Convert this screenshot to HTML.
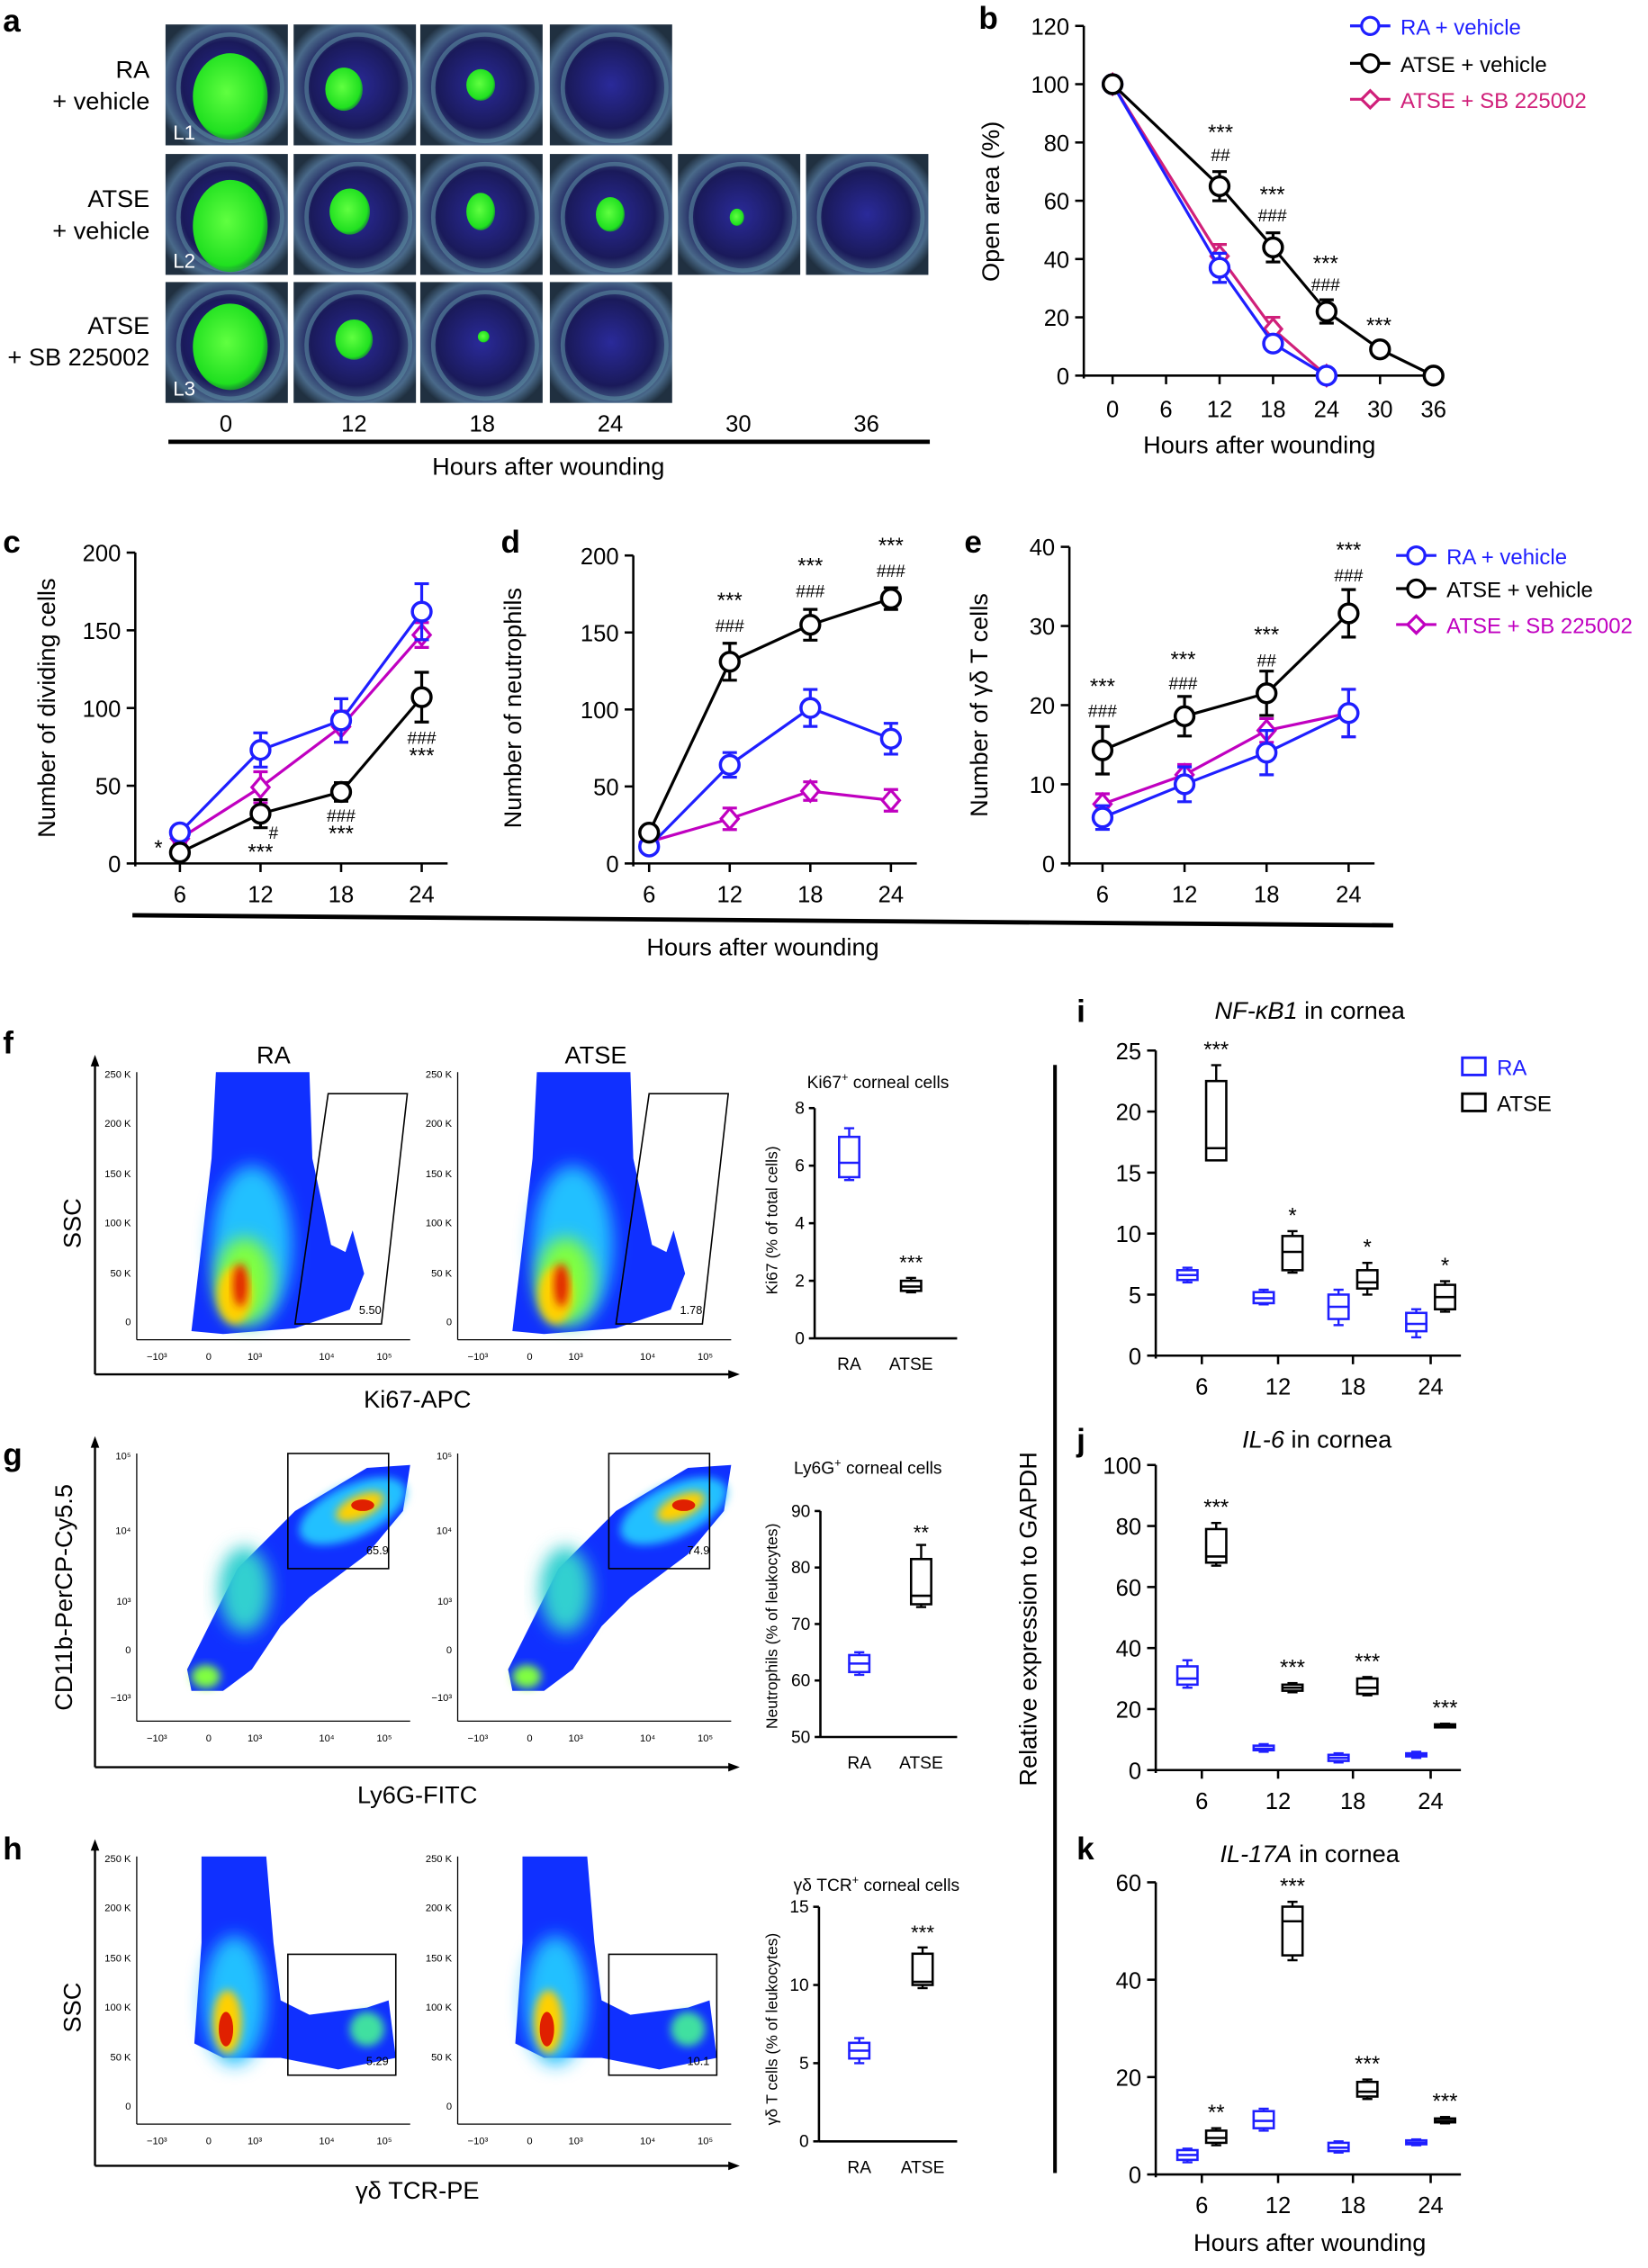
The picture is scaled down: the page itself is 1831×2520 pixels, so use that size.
<!DOCTYPE html>
<html><head><meta charset="utf-8"><style>
html,body{margin:0;padding:0;background:#fff}
svg{display:block;font-family:"Liberation Sans",Arial,sans-serif}
</style></head><body>
<svg id="s" xmlns="http://www.w3.org/2000/svg" width="1831" height="2520" viewBox="0 0 1145 1576" preserveAspectRatio="none">
<defs>
<radialGradient id="eye" cx="50%" cy="50%" r="60%"><stop offset="0" stop-color="#2a2a9a"/><stop offset="0.6" stop-color="#1a1a5a"/><stop offset="0.85" stop-color="#4a6a8a"/><stop offset="1" stop-color="#203040"/></radialGradient>
<radialGradient id="grn" cx="45%" cy="45%" r="60%"><stop offset="0" stop-color="#60ff40"/><stop offset="0.8" stop-color="#20e020"/><stop offset="1" stop-color="#10a020" stop-opacity="0.6"/></radialGradient>
<filter id="bl" x="-30%" y="-30%" width="160%" height="160%"><feGaussianBlur stdDeviation="6"/></filter>
<filter id="bl2" x="-30%" y="-30%" width="160%" height="160%"><feGaussianBlur stdDeviation="3"/></filter>
</defs>
<g id="g"></g>
<!-- static labels -->
<g font-size="17" fill="#000">
<text x="2" y="22" font-weight="bold" font-size="22">a</text>
<text x="680" y="20" font-weight="bold" font-size="22">b</text>
<text x="2" y="384" font-weight="bold" font-size="22">c</text>
<text x="348" y="384" font-weight="bold" font-size="22">d</text>
<text x="670" y="384" font-weight="bold" font-size="22">e</text>
<text x="2" y="732" font-weight="bold" font-size="22">f</text>
<text x="2" y="1018" font-weight="bold" font-size="22">g</text>
<text x="2" y="1292" font-weight="bold" font-size="22">h</text>
<text x="748" y="710" font-weight="bold" font-size="22">i</text>
<text x="748" y="1008" font-weight="bold" font-size="22">j</text>
<text x="748" y="1292" font-weight="bold" font-size="22">k</text>
<text x="104" y="54" text-anchor="end">RA</text><text x="104" y="76" text-anchor="end">+ vehicle</text>
<text x="104" y="144" text-anchor="end">ATSE</text><text x="104" y="166" text-anchor="end">+ vehicle</text>
<text x="104" y="232" text-anchor="end">ATSE</text><text x="104" y="254" text-anchor="end">+ SB 225002</text>
<text x="381" y="330" text-anchor="middle">Hours after wounding</text>
<text x="875" y="315" text-anchor="middle">Hours after wounding</text>
<text x="530" y="664" text-anchor="middle">Hours after wounding</text>
<text x="910" y="1564" text-anchor="middle">Hours after wounding</text>
<text transform="translate(694,140) rotate(-90)" text-anchor="middle">Open area (%)</text>
<text transform="translate(38,492) rotate(-90)" text-anchor="middle">Number of dividing cells</text>
<text transform="translate(362,492) rotate(-90)" text-anchor="middle">Number of neutrophils</text>
<text transform="translate(686,490) rotate(-90)" text-anchor="middle">Number of γδ T cells</text>
<text transform="translate(720,1125) rotate(-90)" text-anchor="middle">Relative expression to GAPDH<tspan font-style="italic"></tspan></text>
<text transform="translate(56,850) rotate(-90)" text-anchor="middle">SSC</text>
<text transform="translate(50,1110) rotate(-90)" text-anchor="middle">CD11b-PerCP-Cy5.5</text>
<text transform="translate(56,1395) rotate(-90)" text-anchor="middle">SSC</text>
<text x="190" y="739" text-anchor="middle">RA</text>
<text x="414" y="739" text-anchor="middle">ATSE</text>
<text x="290" y="978" text-anchor="middle">Ki67-APC</text>
<text x="290" y="1253" text-anchor="middle">Ly6G-FITC</text>
<text x="290" y="1528" text-anchor="middle">γδ TCR-PE</text>
<text x="910" y="708" text-anchor="middle"><tspan font-style="italic">NF-κB1</tspan> in cornea</text>
<text x="915" y="1006" text-anchor="middle"><tspan font-style="italic">IL-6</tspan> in cornea</text>
<text x="910" y="1294" text-anchor="middle"><tspan font-style="italic">IL-17A</tspan> in cornea</text>
</g>
<g font-size="12" fill="#000">
<text x="610" y="756" text-anchor="middle">Ki67<tspan font-size="8" dy="-5">+</tspan><tspan dy="5"> corneal cells</tspan></text>
<text x="603" y="1024" text-anchor="middle">Ly6G<tspan font-size="8" dy="-5">+</tspan><tspan dy="5"> corneal cells</tspan></text>
<text x="609" y="1314" text-anchor="middle">γδ TCR<tspan font-size="8" dy="-5">+</tspan><tspan dy="5"> corneal cells</tspan></text>
<text transform="translate(540,848) rotate(-90)" text-anchor="middle" font-size="11">Ki67 (% of total cells)</text>
<text transform="translate(540,1130) rotate(-90)" text-anchor="middle" font-size="11">Neutrophils (% of leukocytes)</text>
<text transform="translate(540,1410) rotate(-90)" text-anchor="middle" font-size="11">γδ T cells (% of leukocytes)</text>
</g>
</svg>
<script>
const g=document.getElementById('g');const NS='http://www.w3.org/2000/svg';
function el(t,a,txt){const e=document.createElementNS(NS,t);for(const k in a)e.setAttribute(k,a[k]);if(txt!==undefined)e.textContent=txt;g.appendChild(e);return e;}
function L(x1,y1,x2,y2,c='#000',w=1.6){el('line',{x1,y1,x2,y2,stroke:c,'stroke-width':w});}
function T(x,y,s,sz=16,an='middle',c='#000',ex={}){el('text',Object.assign({x,y,'font-size':sz,'text-anchor':an,fill:c},ex),s);}
const BL='#1f1fff',BK='#000',MG='#c000c0',RD='#d0207a';
// panel a photos
const cols=[115,204,292,382,471,560],rows=[17,107,196];
const greens=[[[48,50,26,30],[38,45,13,15],[45,42,10,11],null],[[48,50,26,32],[42,40,14,16],[45,40,10,13],[45,42,10,12],[44,44,5,6],null],[[48,45,26,30],[45,40,13,14],[47,38,4,4],null]];
rows.forEach((ry,ri)=>{greens[ri].forEach((gr,ci)=>{const x=cols[ci];el('rect',{x,y:ry,width:85,height:84,fill:'url(#eye)'});
el('ellipse',{cx:x+45,cy:ry+44,rx:36,ry:37,fill:'none',stroke:'#5a8aa0','stroke-width':3,opacity:0.6});
if(gr)el('ellipse',{cx:x+gr[0]-3,cy:ry+gr[1],rx:gr[2],ry:gr[3],fill:'url(#grn)'});});});
T(128,97,'L1',14,'middle','#fff');T(128,186,'L2',14,'middle','#fff');T(128,275,'L3',14,'middle','#fff');
[0,12,18,24,30,36].forEach((h,i)=>T(157+i*89,300,String(h),16));
L(117,307,646,307,'#000',3);
// generic line plot
function series(xf,yf,hs,vals,errs,c,mk){let d='';hs.forEach((h,i)=>{d+=(i?'L':'M')+xf(h)+' '+yf(vals[i]);});el('path',{d,fill:'none',stroke:c,'stroke-width':2});
hs.forEach((h,i)=>{const x=xf(h),y=yf(vals[i]),e=errs[i];if(e){L(x,yf(vals[i]+e),x,yf(vals[i]-e),c,2);L(x-5,yf(vals[i]+e),x+5,yf(vals[i]+e),c,2);L(x-5,yf(vals[i]-e),x+5,yf(vals[i]-e),c,2);}
if(mk=='o')el('circle',{cx:x,cy:y,r:6.5,fill:'#fff',stroke:c,'stroke-width':2.2});else el('path',{d:`M${x} ${y-7}L${x+6} ${y}L${x} ${y+7}L${x-6} ${y}Z`,fill:'#fff',stroke:c,'stroke-width':2});});}
function yaxis(x,y0,y1,ticks,vmax,sz=16){L(x,y0+2,x,y1,'#000',1.6);ticks.forEach(v=>{const y=y0-(y0-y1)*v/vmax;L(x-6,y,x,y);T(x-10,y+6,String(v),sz,'end');});}
// b
{const xf=h=>773+h*223/36,yf=v=>261-v*243/120;yaxis(753,261,18,[0,20,40,60,80,100,120],120);L(753,261,1000,261);
[0,6,12,18,24,30,36].forEach(h=>{L(xf(h),261,xf(h),267);T(xf(h),290,String(h),16);});
series(xf,yf,[0,12,18,24],[100,41,16,0],[0,4,4,0],RD,'d');
series(xf,yf,[0,12,18,24],[100,37,11,0],[0,5,2,0],BL,'o');
series(xf,yf,[0,12,18,24,30,36],[100,65,44,22,9,0],[0,5,5,4,1,0],BK,'o');
[[848,97,'***'],[848,112,'##'],[884,140,'***'],[884,154,'###'],[921,188,'***'],[921,202,'###'],[958,231,'***']].forEach(a=>T(a[0],a[1],a[2],a[2][0]=='#'?12:15));
const lg=[[BL,'o','RA + vehicle',18],[BK,'o','ATSE + vehicle',44],[RD,'d','ATSE + SB 225002',69]];
lg.forEach(l=>{L(938,l[3],966,l[3],l[0],2);if(l[1]=='o')el('circle',{cx:952,cy:l[3],r:6,fill:'#fff',stroke:l[0],'stroke-width':2});else el('path',{d:`M952 ${l[3]-6}L958 ${l[3]}L952 ${l[3]+6}L946 ${l[3]}Z`,fill:'#fff',stroke:l[0],'stroke-width':2});T(973,l[3]+6,l[2],15,'start',l[0]==BK?'#000':l[0]);});}
// c d e
function panel(ax,y0,ytop,vmax,ticks,x6,dx,S,ann){const xf=h=>x6+(h-6)*dx,yf=v=>y0-(y0-ytop)*v/vmax;yaxis(ax,y0,ytop,ticks,vmax);L(ax,y0,xf(24)+18,y0);
[6,12,18,24].forEach(h=>{L(xf(h),y0,xf(h),y0+6);T(xf(h),627,String(h),16);});S.forEach(s=>series(xf,yf,[6,12,18,24],s[0],s[1],s[2],s[3]));ann.forEach(a=>T(a[0],a[1],a[2],a[2][0]=='#'?12:15));}
panel(94,600,384,200,[0,50,100,150,200],125,168/18,[[[16,49,88,147],[3,10,10,8],MG,'d'],[[20,73,92,162],[3,11,14,18],BL,'o'],[[7,32,46,107],[2,9,6,16],BK,'o']],
[[110,594,'*'],[190,583,'#'],[181,597,'***'],[237,571,'###'],[237,584,'***'],[293,517,'###'],[293,530,'***']]);
panel(440,600,386,200,[0,50,100,150,200],451,168/18,[[[14,29,47,41],[2,7,6,7],MG,'d'],[[11,64,101,81],[2,8,12,10],BL,'o'],[[20,131,155,172],[2,12,10,7],BK,'o']],
[[507,422,'***'],[507,439,'###'],[563,398,'***'],[563,415,'###'],[619,384,'***'],[619,401,'###']]);
panel(743,600,380,40,[0,10,20,30,40],766,171/18,[[[7.5,11.2,16.8,19],[1.3,1.3,1.5,3],MG,'d'],[[5.8,10,14,19],[1.5,2.2,2.8,3],BL,'o'],[[14.3,18.6,21.5,31.6],[3,2.5,2.8,3],BK,'o']],
[[766,482,'***'],[766,498,'###'],[822,463,'***'],[822,479,'###'],[880,446,'***'],[880,463,'##'],[937,387,'***'],[937,404,'###']]);
[[BL,'o','RA + vehicle',386],[BK,'o','ATSE + vehicle',409],[MG,'d','ATSE + SB 225002',434]].forEach(l=>{L(970,l[3],998,l[3],l[0],2);if(l[1]=='o')el('circle',{cx:984,cy:l[3],r:6,fill:'#fff',stroke:l[0],'stroke-width':2});else el('path',{d:`M984 ${l[3]-6}L990 ${l[3]}L984 ${l[3]+6}L978 ${l[3]}Z`,fill:'#fff',stroke:l[0],'stroke-width':2});T(1005,l[3]+6,l[2],15,'start',l[0]==BK?'#000':l[0]);});
L(92,636,968,643,'#000',3);
// flow plots
function arrowAxes(y0,y1,yb){L(66,yb,66,y0-6,'#000',1.5);el('path',{d:`M66 ${y0-12}l-3 8h6z`});L(66,yb,508,yb,'#000',1.5);el('path',{d:`M514 ${yb}l-8 -3v6z`});}
function heat(ox,oy,kind,gate,num,yl,xl){el('rect',{x:ox,y:oy,width:190,height:186,fill:'#fff'});L(ox,oy,ox,oy+186,'#000',0.8);L(ox,oy+186,ox+190,oy+186,'#000',0.8);
const gg=el('g',{transform:`translate(${ox},${oy})`});const add=(t,a)=>{const e=document.createElementNS(NS,t);for(const k in a)e.setAttribute(k,a[k]);gg.appendChild(e);};
if(kind=='f'){add('path',{d:'M55 0L120 0 122 60 135 120 145 125 150 110 158 140 148 165 110 178 60 182 38 180 45 120 52 60Z',fill:'#1030ff'});
add('ellipse',{cx:80,cy:120,rx:28,ry:55,fill:'#20c0ff',filter:'url(#bl)'});add('ellipse',{cx:75,cy:145,rx:20,ry:30,fill:'#80ff40',filter:'url(#bl)'});add('ellipse',{cx:68,cy:155,rx:12,ry:20,fill:'#ffd000',filter:'url(#bl2)'});add('ellipse',{cx:72,cy:148,rx:5,ry:15,fill:'#e02000',filter:'url(#bl2)'});}
if(kind=='g'){add('path',{d:'M35 150 50 120 70 80 110 40 160 10 190 8 185 40 160 70 120 100 100 120 80 150 60 165 38 165Z',fill:'#1030ff'});
add('ellipse',{cx:150,cy:40,rx:40,ry:18,fill:'#20c0ff',transform:'rotate(-25 150 40)',filter:'url(#bl2)'});add('ellipse',{cx:155,cy:37,rx:18,ry:8,fill:'#ffd000',transform:'rotate(-25 155 37)',filter:'url(#bl2)'});add('ellipse',{cx:157,cy:36,rx:8,ry:4,fill:'#e02000'});
add('ellipse',{cx:75,cy:95,rx:18,ry:30,fill:'#30d0d0',filter:'url(#bl)'});add('ellipse',{cx:48,cy:155,rx:10,ry:8,fill:'#80ff40',filter:'url(#bl2)'});add('ellipse',{cx:112,cy:135,rx:12,ry:10,fill:'#fff'});}
if(kind=='h'){add('path',{d:'M45 0L90 0 95 60 100 100 120 110 160 105 175 100 180 140 140 148 100 140 60 140 40 130 45 60Z',fill:'#1030ff'});
add('ellipse',{cx:68,cy:100,rx:22,ry:45,fill:'#20c0ff',filter:'url(#bl)'});add('ellipse',{cx:63,cy:115,rx:10,ry:22,fill:'#ffd000',filter:'url(#bl2)'});add('ellipse',{cx:62,cy:120,rx:5,ry:12,fill:'#e02000'});add('ellipse',{cx:160,cy:120,rx:12,ry:12,fill:'#40e0a0',filter:'url(#bl2)'});}
if(gate.length==4)el('rect',{x:ox+gate[0],y:oy+gate[1],width:gate[2],height:gate[3],fill:'none',stroke:'#000','stroke-width':1});else el('polygon',{points:gate.map((p,i)=>i%2?p+oy:p+ox).join(' '),fill:'none',stroke:'#000','stroke-width':1});
T(ox+num[0],oy+num[1],num[2],8,'end');yl.forEach(t=>T(ox-4,oy+t[0],t[1],7,'end'));xl.forEach(t=>T(ox+t[0],oy+200,t[1],7));}
const ssc=[[4,'250 K'],[38,'200 K'],[73,'150 K'],[107,'100 K'],[142,'50 K'],[176,'0']],cdl=[[4,'10⁵'],[56,'10⁴'],[105,'10³'],[139,'0'],[172,'−10³']];
const xl=[[14,'−10³'],[50,'0'],[82,'10³'],[132,'10⁴'],[172,'10⁵']];
arrowAxes(745,931,955);heat(95,745,'f',[133,15,188,15,170,175,110,175],[170,168,'5.50'],ssc,xl);heat(318,745,'f',[133,15,188,15,170,175,110,175],[170,168,'1.78'],ssc,xl);
arrowAxes(1010,1200,1228);heat(95,1010,'g',[105,0,70,80],[175,70,'65.9'],cdl,xl);heat(318,1010,'g',[105,0,70,80],[175,70,'74.9'],cdl,xl);
arrowAxes(1290,1480,1505);heat(95,1290,'h',[105,68,75,84],[175,145,'5.29'],ssc,xl);heat(318,1290,'h',[105,68,75,84],[175,145,'10.1'],ssc,xl);
// box plots
function box(x,yf,b,c,w=9){const[lo,q1,md,q3,hi]=b;L(x,yf(lo),x,yf(q1),c,1.5);L(x,yf(q3),x,yf(hi),c,1.5);L(x-w/2,yf(lo),x+w/2,yf(lo),c,1.5);L(x-w/2,yf(hi),x+w/2,yf(hi),c,1.5);
el('rect',{x:x-w,y:yf(q3),width:2*w,height:yf(q1)-yf(q3),fill:'#fff',stroke:c,'stroke-width':1.6});L(x-w,yf(md),x+w,yf(md),c,1.6);}
function small(ax,y0,ytop,vmin,vmax,ticks,bx,ann){const yf=v=>y0-(y0-ytop)*(v-vmin)/(vmax-vmin);L(ax,y0,ax,ytop);ticks.forEach(v=>{L(ax-4,yf(v),ax,yf(v));T(ax-7,yf(v)+4,String(v),12,'end');});L(ax,y0,665,y0);
box(bx[0][0],yf,bx[0][1],BL,7);box(bx[1][0],yf,bx[1][1],BK,7);T(bx[0][0],y0+22,'RA',12);T(bx[1][0],y0+22,'ATSE',12);T(bx[1][0],yf(ann[0]),ann[1],14);}
small(566,930,770,0,8,[0,2,4,6,8],[[590,[5.5,5.6,6.1,7,7.3]],[633,[1.6,1.65,1.8,2,2.1]]],[2.4,'***']);
small(570,1207,1050,50,90,[50,60,70,80,90],[[597,[61,61.5,63,64.5,65]],[640,[73,73.5,75,81.5,84]]],[85,'**']);
small(569,1488,1325,0,15,[0,5,10,15],[[597,[5,5.3,5.8,6.3,6.6]],[641,[9.8,10,10.2,12,12.4]]],[12.9,'***']);
L(733,740,733,1510,'#000',2.5);
function gene(y0,ytop,vmax,ticks,data,ann){const yf=v=>y0-(y0-ytop)*v/vmax,xs=[835,888,940,994];yaxis(803,y0,ytop,ticks,vmax);L(803,y0,1015,y0);
xs.forEach((x,i)=>{L(x,y0,x,y0+6);T(x,y0+27,['6','12','18','24'][i],16);box(x-10,yf,data[i][0],BL,7);box(x+10,yf,data[i][1],BK,7);T(x+10,yf(data[i][1][4])-6,ann[i],15);});}
gene(942,730,25,[0,5,10,15,20,25],[[[6,6.2,6.6,7,7.2],[16,16,17,22.5,23.8]],[[4.2,4.3,4.7,5.2,5.4],[6.8,7,8.5,9.8,10.2]],[[2.5,3,4,5,5.4],[5,5.5,6,7,7.6]],[[1.5,2,2.6,3.5,3.8],[3.6,3.8,4.8,5.8,6.1]]],['***','*','*','*']);
gene(1230,1018,100,[0,20,40,60,80,100],[[[27,28,30,34,36],[67,68,70,79,81]],[[6,6.5,7,8,8.5],[25.5,26,27,28,28.5]],[[2.5,3,4,5,5.5],[24.5,25,27,30,30.5]],[[4,4.5,5,5.5,6],[14,14,14.5,15,15.2]]],['***','***','***','***']);
gene(1511,1308,60,[0,20,40,60],[[[2.5,3,4,5,5.3],[6,6.5,7.5,9,9.5]],[[9,9.5,11,13,13.5],[44,45,52,55,56]],[[4.5,4.8,5.5,6.5,6.8],[15.5,16,17,19,19.5]],[[6,6.2,6.5,7,7.2],[10.5,10.7,11,11.5,11.8]]],['**','***','***','***']);
el('rect',{x:1016,y:735,width:16,height:12,fill:'#fff',stroke:BL,'stroke-width':1.8});T(1040,747,'RA',15,'start',BL);
el('rect',{x:1016,y:760,width:16,height:12,fill:'#fff',stroke:BK,'stroke-width':1.8});T(1040,772,'ATSE',15,'start');
</script>
</body></html>
